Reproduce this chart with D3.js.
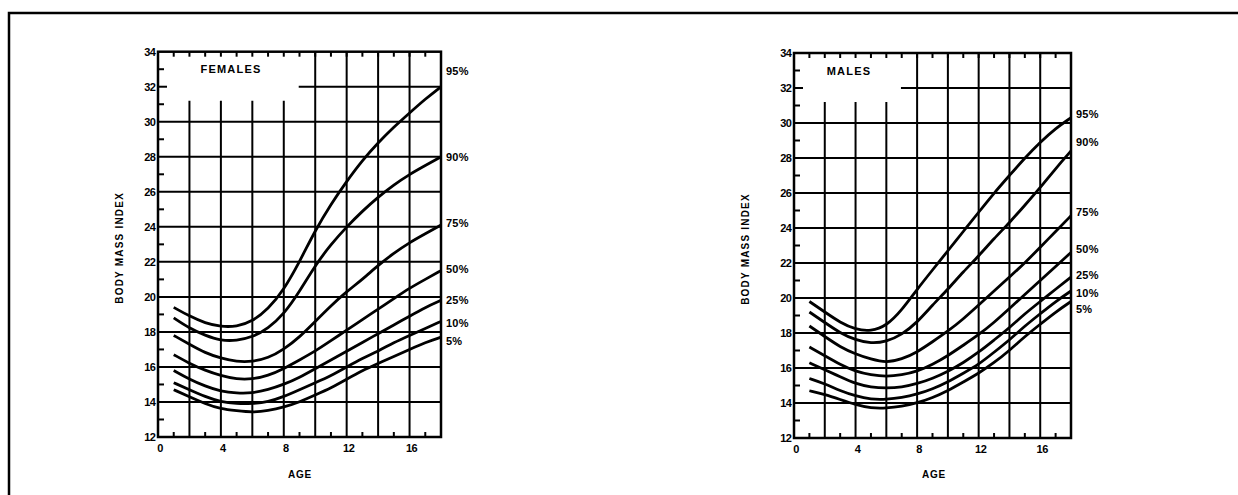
<!DOCTYPE html>
<meta charset="utf-8">
<style>
  body { margin: 0; background: #fff; overflow: hidden; }
  svg { display: block; }
  text { font-family: "Liberation Sans", Arial, sans-serif; font-weight: bold; fill: #000; }
</style>
<body>
<script src="https://cdn.jsdelivr.net/npm/d3@7"></script>
<script>

var width = 1238,
    height = 495;

// ages, curves start at 1 year
var ages = [1, 2, 3, 4, 5, 6, 7, 8, 9, 10, 11, 12, 13, 14, 15, 16, 17, 18];
var percentiles = ["95%", "90%", "75%", "50%", "25%", "10%", "5%"];

// females, body mass index
var femaleP95 = [19.4, 18.9, 18.5, 18.3, 18.3, 18.6, 19.3, 20.4, 22.0, 23.8, 25.3, 26.6, 27.8, 28.8, 29.7, 30.5, 31.3, 32.0];
var femaleP90 = [18.8, 18.2, 17.8, 17.5, 17.5, 17.7, 18.2, 19.0, 20.3, 21.8, 23.0, 24.0, 24.9, 25.7, 26.4, 27.0, 27.5, 28.0];
var femaleP75 = [17.8, 17.3, 16.8, 16.5, 16.3, 16.3, 16.5, 17.0, 17.7, 18.6, 19.5, 20.3, 21.0, 21.8, 22.5, 23.1, 23.6, 24.1];
var femaleP50 = [16.7, 16.2, 15.8, 15.5, 15.3, 15.3, 15.5, 15.9, 16.4, 16.9, 17.5, 18.1, 18.7, 19.3, 19.9, 20.5, 21.0, 21.5];
var femaleP25 = [15.8, 15.3, 14.9, 14.6, 14.5, 14.5, 14.7, 15.0, 15.4, 15.9, 16.4, 16.9, 17.4, 17.9, 18.4, 18.9, 19.4, 19.8];
var femaleP10 = [15.1, 14.7, 14.3, 14.0, 13.9, 13.9, 14.0, 14.3, 14.7, 15.1, 15.5, 16.0, 16.5, 16.9, 17.4, 17.8, 18.2, 18.6];
var femaleP5  = [14.7, 14.3, 13.9, 13.6, 13.5, 13.4, 13.5, 13.7, 14.0, 14.4, 14.8, 15.3, 15.8, 16.2, 16.6, 17.0, 17.4, 17.7];

// males
var maleP95 = [19.8, 19.2, 18.6, 18.2, 18.1, 18.4, 19.3, 20.5, 21.6, 22.7, 23.8, 24.9, 26.0, 27.0, 28.0, 28.9, 29.7, 30.3];
var maleP90 = [19.2, 18.6, 18.0, 17.6, 17.4, 17.5, 17.9, 18.6, 19.6, 20.5, 21.5, 22.4, 23.4, 24.3, 25.3, 26.3, 27.4, 28.4];
var maleP75 = [18.4, 17.8, 17.2, 16.8, 16.5, 16.3, 16.5, 16.9, 17.5, 18.1, 18.8, 19.6, 20.4, 21.2, 22.0, 22.9, 23.8, 24.7];
var maleP50 = [17.2, 16.7, 16.2, 15.8, 15.6, 15.5, 15.6, 15.8, 16.2, 16.7, 17.3, 17.9, 18.6, 19.4, 20.2, 21.0, 21.8, 22.6];
var maleP25 = [16.3, 15.9, 15.5, 15.1, 14.9, 14.85, 14.9, 15.1, 15.4, 15.8, 16.3, 16.9, 17.6, 18.3, 19.1, 19.8, 20.5, 21.2];
var maleP10 = [15.4, 15.1, 14.7, 14.4, 14.2, 14.2, 14.3, 14.5, 14.8, 15.2, 15.7, 16.2, 16.9, 17.6, 18.4, 19.1, 19.8, 20.4];
var maleP5  = [14.7, 14.5, 14.2, 13.9, 13.7, 13.7, 13.8, 14.0, 14.3, 14.7, 15.2, 15.7, 16.3, 17.0, 17.8, 18.5, 19.2, 19.8];

// where the percentile labels sit on the right edge
var femaleLabelAt = [32.9, 28.0, 24.2, 21.6, 19.8, 18.5, 17.5];
var maleLabelAt   = [30.5, 28.9, 24.9, 22.8, 21.3, 20.3, 19.4];

var ageTicks = [0, 4, 8, 12, 16];
var bmiTicks = [12, 14, 16, 18, 20, 22, 24, 26, 28, 30, 32, 34];

var svg = d3.select("body").append("svg")
    .attr("width", width)
    .attr("height", height);

// outer frame, only top and left edges are on the page
svg.append("path")
    .attr("d", "M9,495V13H1238")
    .attr("fill", "none").attr("stroke", "#000").attr("stroke-width", 2.5);

drawPanel({
  left: 158, right: 441, top: 51.7, bottom: 437,
  title: "FEMALES", titleX: 231, boxAge: 8.95,
  series: [femaleP95, femaleP90, femaleP75, femaleP50, femaleP25, femaleP10, femaleP5],
  labelAt: femaleLabelAt,
  yTitleX: 123, ageX: 300
});

drawPanel({
  left: 794, right: 1071, top: 53, bottom: 438,
  title: "MALES", titleX: 849, boxAge: 6.95,
  series: [maleP95, maleP90, maleP75, maleP50, maleP25, maleP10, maleP5],
  labelAt: maleLabelAt,
  yTitleX: 749, ageX: 934
});

function drawPanel(p) {
  var x = d3.scaleLinear().domain([0, 18]).range([p.left, p.right]);
  var y = d3.scaleLinear().domain([12, 34]).range([p.bottom, p.top]);
  var g = svg.append("g");
  var boxBmi = 31.2;

  // grid: verticals every 2 years, the ones under the title box stop short
  d3.range(2, 18, 2).forEach(function(a) {
    g.append("line")
      .attr("x1", x(a)).attr("x2", x(a))
      .attr("y1", y(12)).attr("y2", a < p.boxAge ? y(boxBmi) : y(34))
      .attr("stroke", "#000").attr("stroke-width", 2);
  });
  d3.range(14, 34, 2).forEach(function(b) {
    g.append("line")
      .attr("x1", b == 32 ? x(p.boxAge) : x(0)).attr("x2", x(18))
      .attr("y1", y(b)).attr("y2", y(b))
      .attr("stroke", "#000").attr("stroke-width", 2);
  });

  // minor ticks
  d3.range(1, 18, 1).forEach(function(a) {
    g.append("line")
      .attr("x1", x(a)).attr("x2", x(a))
      .attr("y1", y(34)).attr("y2", y(34) + 5)
      .attr("stroke", "#000").attr("stroke-width", 2);
    if (a % 2) g.append("line")
      .attr("x1", x(a)).attr("x2", x(a))
      .attr("y1", y(12)).attr("y2", y(12) - 5)
      .attr("stroke", "#000").attr("stroke-width", 2);
  });
  d3.range(13, 34, 2).forEach(function(b) {
    g.append("line")
      .attr("x1", x(0)).attr("x2", x(0) + 6)
      .attr("y1", y(b)).attr("y2", y(b))
      .attr("stroke", "#000").attr("stroke-width", 2);
  });
  g.append("line")
    .attr("x1", x(0)).attr("x2", x(0) + 9)
    .attr("y1", y(32)).attr("y2", y(32))
    .attr("stroke", "#000").attr("stroke-width", 2);

  // frame of the plot
  g.append("rect")
    .attr("x", x(0)).attr("y", y(34))
    .attr("width", x(18) - x(0)).attr("height", y(12) - y(34))
    .attr("fill", "none").attr("stroke", "#000").attr("stroke-width", 2.5);

  // curves, smoothed like the hand drawn ones
  var line = d3.line()
    .x(function(d) { return x(d[0]); })
    .y(function(d) { return y(d[1]); })
    .curve(d3.curveBasis);

  p.series.forEach(function(s) {
    g.append("path")
      .attr("d", line(d3.zip(ages, s)))
      .attr("fill", "none").attr("stroke", "#000").attr("stroke-width", 2.8);
  });

  // labels
  percentiles.forEach(function(t, i) {
    g.append("text")
      .attr("x", x(18) + 5).attr("y", y(p.labelAt[i]) + 4)
      .attr("font-size", 11).attr("letter-spacing", 0.2)
      .text(t);
  });

  g.selectAll(".yt").data(bmiTicks).enter().append("text")
    .attr("x", x(0) - 3).attr("y", function(d) { return y(d) + 4; })
    .attr("text-anchor", "end").attr("font-size", 11).attr("letter-spacing", -0.8)
    .text(function(d) { return d; });

  g.selectAll(".xt").data(ageTicks).enter().append("text")
    .attr("x", function(d) { return x(d) + 2; }).attr("y", y(12) + 15)
    .attr("text-anchor", "middle").attr("font-size", 11).attr("letter-spacing", -0.5)
    .text(function(d) { return d; });

  g.append("text")
    .attr("x", p.titleX).attr("y", y(33) + 4)
    .attr("text-anchor", "middle").attr("font-size", 11).attr("letter-spacing", 1.2)
    .text(p.title);

  g.append("text")
    .attr("transform", "translate(" + p.yTitleX + "," + y(22.8) + ") rotate(-90)")
    .attr("text-anchor", "middle").attr("font-size", 10).attr("letter-spacing", 1.2)
    .text("BODY MASS INDEX");

  g.append("text")
    .attr("x", p.ageX).attr("y", 478)
    .attr("text-anchor", "middle").attr("font-size", 10).attr("letter-spacing", 0.8)
    .text("AGE");
}
</script>
</body>
